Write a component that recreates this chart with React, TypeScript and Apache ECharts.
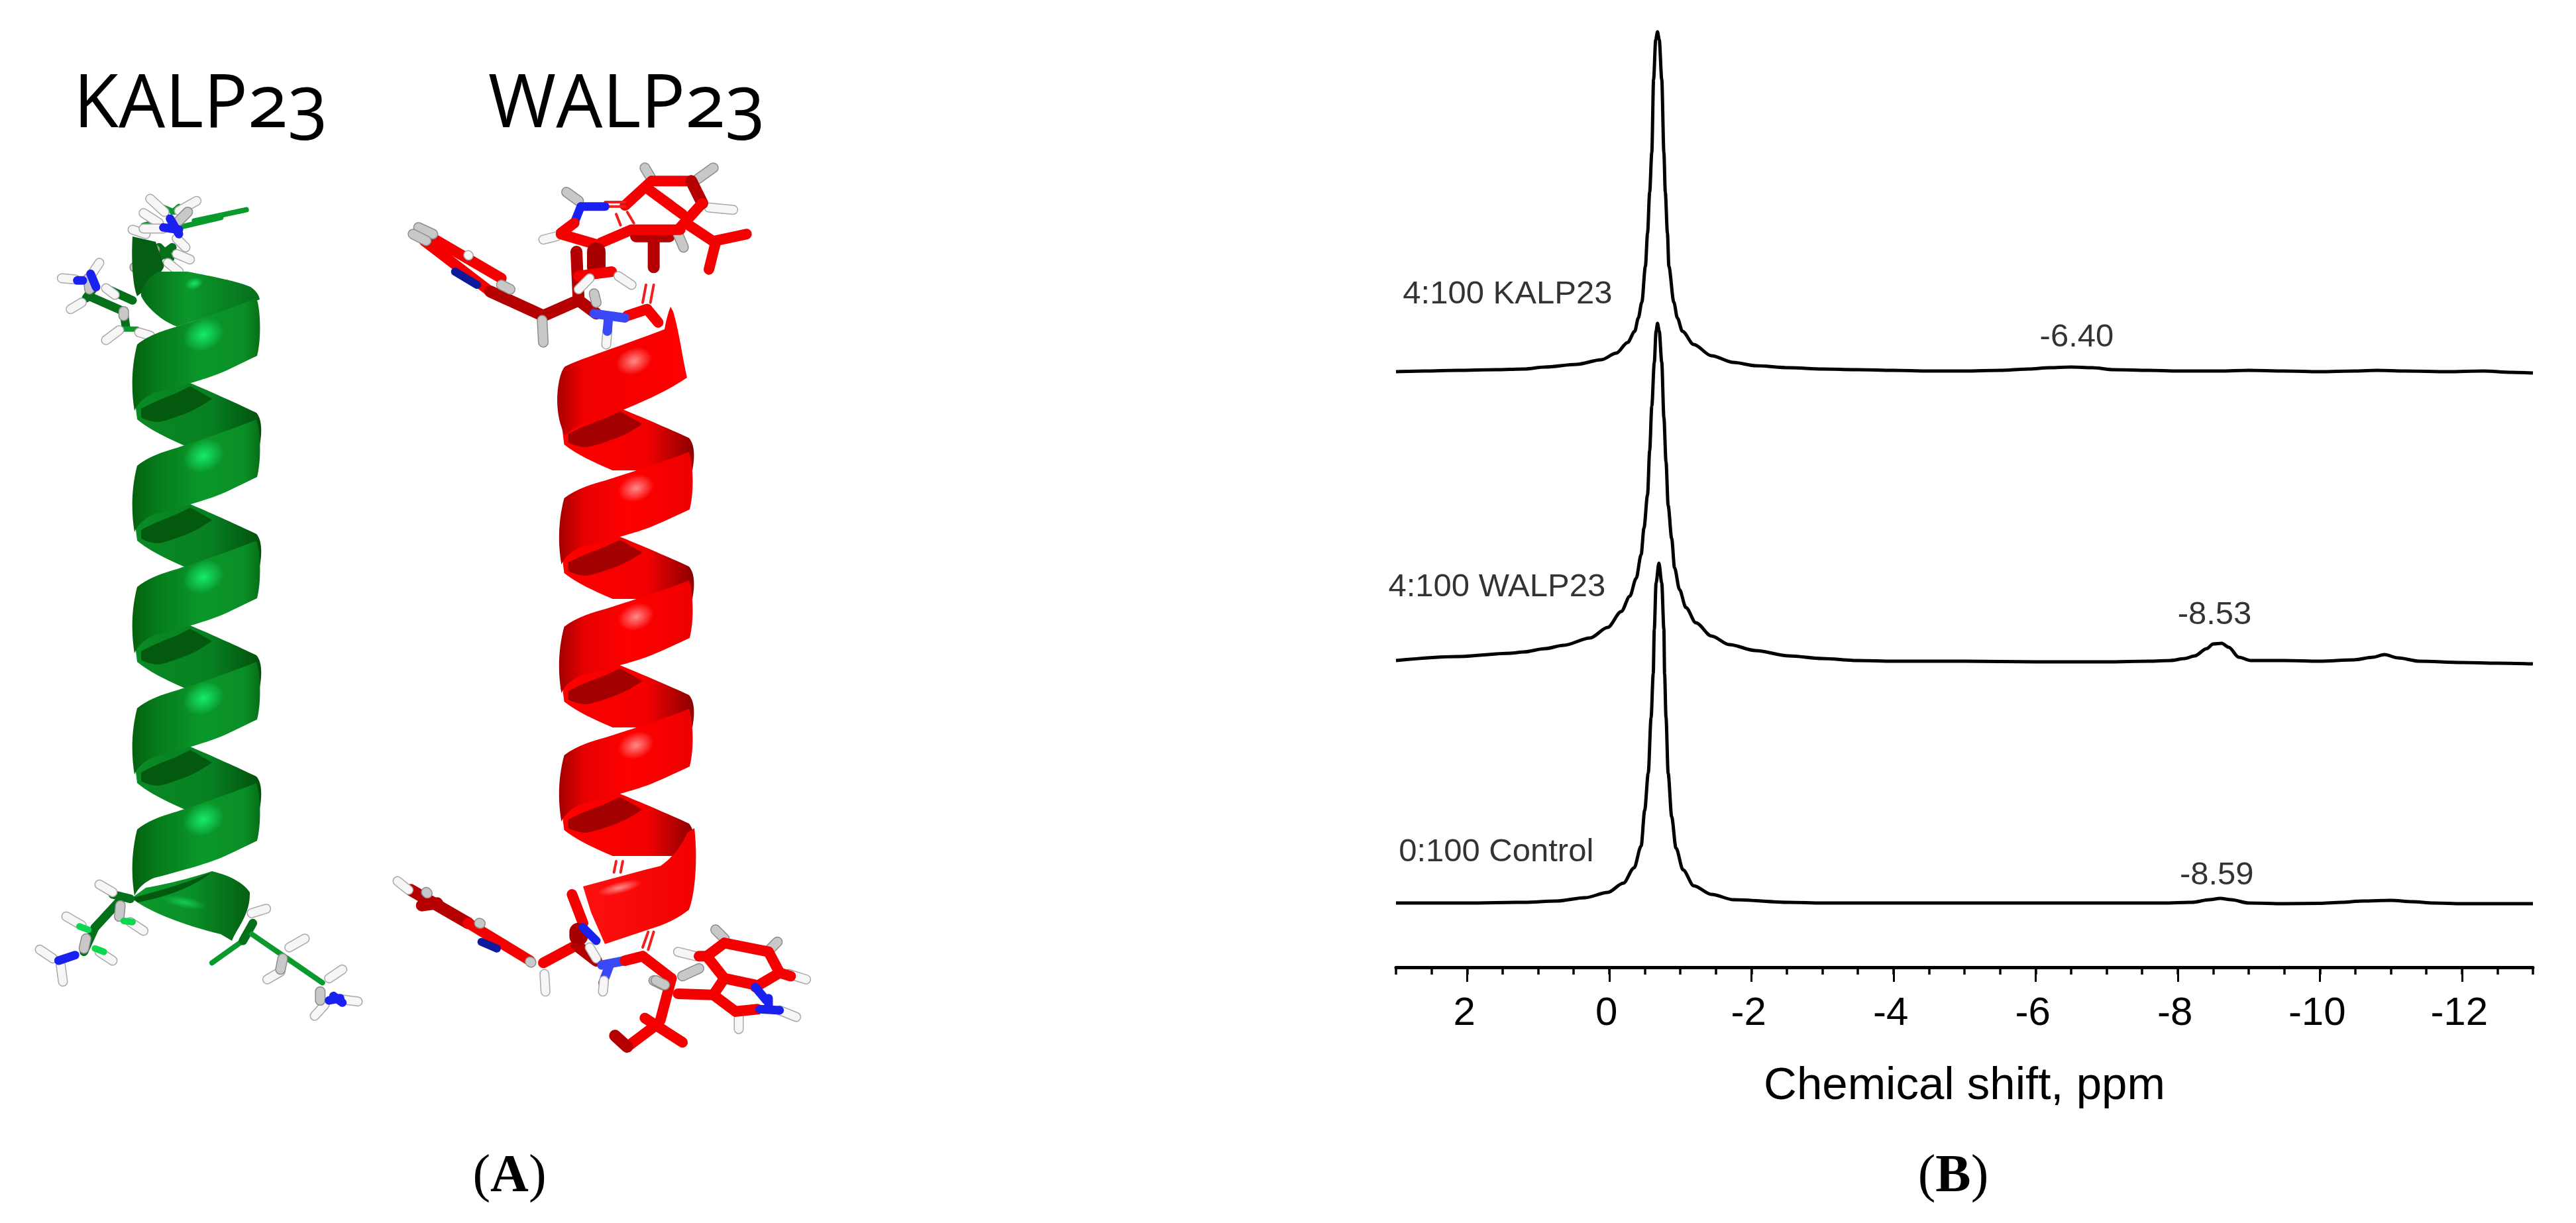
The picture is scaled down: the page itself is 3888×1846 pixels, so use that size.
import React, { useEffect, useRef } from "react";
import * as echarts from "echarts";

// ---------- spectrum data: [chemical shift ppm, signal height] ----------
const majorTicks = [2, 0, -2, -4, -6, -8, -10, -12];

const kalp23Trace = [
  [3.0, 899], [2.6, 900], [2.14, 901], [1.6, 902], [1.2, 903], [0.9, 906], [0.46, 910], [0.11, 917], [-0.1, 927], [-0.26, 943],
  [-0.36, 960], [-0.41, 980], [-0.46, 1004], [-0.51, 1058], [-0.54, 1108], [-0.57, 1170], [-0.6, 1230], [-0.625, 1340],
  [-0.655, 1400], [-0.68, 1412], [-0.705, 1400], [-0.74, 1340], [-0.77, 1230], [-0.79, 1170], [-0.82, 1108], [-0.84, 1058],
  [-0.91, 1004], [-0.96, 980], [-1.03, 960], [-1.19, 940], [-1.44, 923], [-1.75, 913], [-2.06, 908], [-2.53, 905],
  [-3, 903], [-3.5, 902], [-4, 901], [-4.5, 900], [-5, 900], [-5.5, 901], [-5.9, 903], [-6.2, 905], [-6.5, 906], [-6.8, 905],
  [-7.1, 902], [-7.6, 901], [-8, 900], [-8.6, 900], [-9, 901], [-9.5, 900], [-10, 899], [-10.5, 900], [-10.8, 901],
  [-11.2, 900], [-11.8, 899], [-12.3, 900], [-12.7, 898], [-13, 897],
];

const walp23Trace = [
  [3.0, 463], [2.14, 469], [1.39, 474], [1.2, 476], [0.9, 481], [0.64, 486], [0.27, 497], [0.02, 513], [-0.17, 537], [-0.29, 560],
  [-0.38, 587], [-0.45, 623], [-0.49, 663], [-0.54, 713], [-0.57, 780], [-0.6, 847], [-0.635, 913], [-0.66, 960], [-0.68, 972],
  [-0.705, 960], [-0.74, 913], [-0.77, 830], [-0.8, 763], [-0.83, 697], [-0.88, 647], [-0.92, 603], [-0.99, 570], [-1.08, 543],
  [-1.22, 520], [-1.44, 500], [-1.69, 487], [-2.06, 478], [-2.53, 470], [-3, 466], [-3.5, 463], [-4, 462], [-5, 462], [-6, 461],
  [-7, 461], [-7.6, 462], [-7.9, 463], [-8.1, 466], [-8.24, 470], [-8.41, 481], [-8.5, 488], [-8.62, 489], [-8.72, 483],
  [-8.86, 468], [-9.03, 463], [-9.5, 463], [-10, 462], [-10.48, 464], [-10.75, 468], [-10.91, 472], [-11.1, 467], [-11.4, 462],
  [-12, 460], [-12.5, 459], [-13, 458],
];

const controlTrace = [
  [3.0, 97], [2, 97], [1.2, 98], [0.74, 100], [0.34, 105], [0.02, 113], [-0.2, 127], [-0.35, 150], [-0.45, 183], [-0.5, 237],
  [-0.55, 293], [-0.59, 377], [-0.62, 443], [-0.635, 510], [-0.66, 580], [-0.7, 610], [-0.74, 580], [-0.77, 510], [-0.78, 443],
  [-0.8, 377], [-0.83, 293], [-0.88, 227], [-0.94, 180], [-1.04, 147], [-1.19, 123], [-1.44, 110], [-1.75, 102], [-2.53, 98],
  [-3, 97], [-4, 97], [-5, 97], [-6, 97], [-7, 97], [-7.8, 97], [-8.2, 98], [-8.45, 102], [-8.6, 104], [-8.75, 102], [-9, 97],
  [-9.5, 96], [-10, 96.5], [-10.3, 98], [-10.6, 100], [-11, 101], [-11.3, 99], [-11.6, 97], [-12, 96], [-13, 96],
];

const annotations = [
  { text: "4:100 KALP23", value: [1.43, 1019] },
  { text: "4:100 WALP23", value: [1.58, 577] },
  { text: "0:100 Control", value: [1.59, 177] },
  { text: "-6.40", value: [-6.58, 954] },
  { text: "-8.53", value: [-8.52, 535] },
  { text: "-8.59", value: [-8.55, 142] },
];

// ---------- panel A artwork: helix ribbon outlines ----------
const frontBand =
  "M203 620 C198 590 198 555 207 520 C225 505 250 498 267 493 C300 482 350 465 387 450 C393 465 395 510 388 537 C365 548 345 558 333 563 C310 572 290 578 233 593 C220 598 208 608 203 620 Z";
const backBand =
  "M287 578 C320 592 360 610 387 623 C395 632 396 650 392 672 L277 672 C250 660 225 648 207 633 L203 600 L287 560 Z";
const innerShade =
  "M213 617 C230 607 250 600 267 593 L287 583 C300 590 310 596 320 602 C305 612 295 618 283 623 C265 630 250 635 240 637 C230 637 220 634 213 630 Z";
const greenCap =
  "M213 447 C212 436 222 418 240 410 L283 410 C320 417 360 425 378 433 C388 440 391 446 392 452 C350 466 300 482 267 493 C245 485 222 465 213 447 Z";
const greenStem = "M200 357 C198 390 200 430 207 447 L216 440 C235 420 250 405 247 400 L235 365 Z";
const greenCurl =
  "M198 1356 C225 1375 270 1395 333 1410 L350 1420 C358 1400 378 1380 377 1347 C370 1335 350 1322 320 1315 C290 1325 250 1335 220 1340 Z";
const greenCurlShade = "M200 1355 C240 1345 290 1330 318 1317 C300 1335 250 1355 208 1362 Z";
const redFirst =
  "M853 657 C843 640 838 610 843 580 C845 568 848 558 853 553 C880 540 930 525 1003 497 C1005 485 1008 473 1012 463 L1016 470 C1025 500 1030 540 1037 570 C1000 595 960 610 930 623 C900 632 870 640 853 657 Z";
const redLast =
  "M880 1338 L973 1313 L997 1307 C1015 1295 1030 1275 1037 1257 L1048 1250 C1052 1280 1052 1340 1040 1373 C1025 1385 1010 1392 997 1397 L913 1425 L892 1377 Z";

type Stick = [number, number, number, number, string];

// sticks: x1, y1, x2, y2 in crop pixels (3x), kind
const greenTopSticks: Stick[] = [
  [880, 280, 1115, 230, "g"], [830, 305, 1000, 265, "g"],
  [720, 400, 770, 450, "dg"], [700, 460, 780, 400, "dg"], [730, 215, 790, 240, "g"], [810, 215, 780, 240, "g"], [650, 300, 720, 280, "g"],
  [680, 180, 745, 240, "H"], [890, 190, 810, 235, "H"], [650, 245, 720, 290, "H"], [600, 320, 660, 340, "H"], [650, 315, 740, 315, "H"],
  [840, 400, 800, 360, "H"], [860, 455, 800, 430, "H"], [810, 510, 760, 470, "H"], [610, 490, 690, 470, "G"], [640, 435, 700, 410, "G"], [850, 240, 810, 280, "G"],
  [740, 310, 810, 320, "b"], [770, 270, 810, 340, "b"],
  [400, 620, 560, 690, "dg"], [490, 590, 600, 640, "dg"], [560, 690, 570, 760, "dg"], [560, 770, 620, 770, "g"], [390, 630, 420, 590, "dg"],
  [280, 540, 340, 545, "H"], [450, 470, 410, 530, "H"], [400, 540, 405, 590, "G"], [320, 680, 370, 650, "H"], [480, 820, 540, 775, "H"],
  [560, 690, 560, 710, "G"], [630, 785, 680, 800, "H"], [480, 585, 520, 615, "H"],
  [350, 550, 375, 550, "b"], [410, 520, 435, 580, "b"],
];
const greenBottomSticks: Stick[] = [
  [960, 610, 1100, 510, "g"], [1100, 510, 1145, 430, "dg"], [1140, 480, 1300, 590, "g"], [1300, 590, 1460, 700, "g"],
  [550, 320, 430, 450, "dg"], [430, 450, 380, 560, "dg"], [510, 300, 590, 320, "dg"],
  [450, 255, 510, 290, "H"], [300, 400, 370, 440, "H"], [650, 465, 590, 425, "H"], [510, 600, 450, 560, "H"], [180, 550, 240, 590, "H"], [285, 695, 275, 620, "H"],
  [540, 400, 545, 350, "G"], [380, 545, 390, 500, "G"], [1205, 365, 1140, 385, "H"], [1380, 500, 1310, 540, "H"], [1210, 685, 1270, 650, "H"],
  [1270, 640, 1280, 590, "G"], [1550, 640, 1490, 680, "H"], [1425, 850, 1470, 800, "H"], [1450, 780, 1450, 740, "G"], [1620, 785, 1545, 775, "H"],
  [360, 445, 400, 460, "lg"], [560, 420, 600, 425, "lg"], [430, 545, 470, 560, "lg"],
  [265, 600, 340, 575, "b"], [1490, 780, 1540, 770, "b"], [1510, 760, 1550, 790, "b"],
];
const redTopSticks: Stick[] = [
  [1380, 300, 1500, 380, "r"], [1500, 380, 1470, 500, "r"], [1500, 370, 1640, 340, "r"], [1220, 350, 1220, 490, "dr"], [1140, 350, 1290, 350, "dr"],
  [1330, 340, 1355, 400, "G"], [1490, 40, 1420, 90, "G"], [1180, 40, 1210, 90, "G"], [1470, 220, 1580, 230, "H"],
  [1090, 210, 1210, 100, "r"], [1210, 100, 1390, 100, "r"], [1390, 100, 1440, 200, "dr"], [1440, 200, 1340, 310, "r"], [1200, 140, 1350, 250, "r"],
  [1000, 195, 1090, 195, "rt"], [1000, 215, 1090, 215, "rt"], [1050, 250, 1070, 300, "rt"], [1100, 240, 1130, 290, "rt"],
  [825, 150, 880, 190, "G"], [890, 215, 1000, 215, "b"], [890, 215, 860, 290, "b"],
  [860, 290, 800, 335, "r"], [720, 365, 780, 350, "H"], [800, 340, 970, 390, "r"],
  [980, 380, 1120, 320, "r"], [1120, 320, 1340, 320, "r"],
  [960, 420, 960, 490, "drw"], [880, 640, 870, 420, "dr"],
  [170, 330, 530, 540, "r"], [180, 370, 480, 600, "r"], [480, 600, 720, 710, "dr"], [720, 710, 880, 640, "dr"], [880, 640, 960, 700, "dr"],
  [155, 310, 220, 340, "G"], [130, 340, 190, 370, "G"], [380, 435, 382, 437, "H"], [570, 590, 530, 570, "G"], [720, 830, 715, 730, "G"], [320, 510, 420, 570, "nb"],
  [880, 530, 1030, 510, "r"], [1060, 530, 1120, 570, "H"], [880, 590, 930, 540, "H"], [950, 610, 960, 650, "G"],
  [1100, 710, 1190, 680, "r"], [1190, 680, 1240, 740, "r"], [1170, 650, 1185, 570, "rt"], [1205, 650, 1220, 570, "rt"],
  [1005, 840, 1010, 780, "H"], [950, 700, 1090, 720, "lb"], [1015, 720, 1010, 780, "lb"],
];
const redBottomSticks: Stick[] = [
  [120, 280, 380, 430, "dr"], [380, 430, 660, 600, "r"], [60, 240, 110, 280, "H"], [190, 290, 195, 295, "G"], [430, 430, 435, 432, "G"], [170, 350, 240, 340, "dr"],
  [440, 515, 510, 545, "nb"], [660, 605, 665, 608, "G"], [730, 740, 725, 660, "H"],
  [720, 610, 870, 530, "r"], [870, 530, 960, 600, "dr"], [850, 300, 900, 430, "r"], [880, 470, 880, 490, "drw"],
  [900, 450, 960, 510, "b"], [960, 590, 930, 540, "H"], [985, 620, 1090, 600, "lb"], [1020, 620, 990, 700, "lb"], [990, 740, 995, 690, "H"],
  [1090, 600, 1170, 580, "r"], [1170, 580, 1300, 680, "r"], [1170, 540, 1195, 470, "rt"], [1195, 550, 1220, 470, "rt"],
  [1040, 200, 1050, 150, "rt"], [1070, 200, 1080, 150, "rt"],
  [1220, 690, 1260, 710, "G"], [1300, 680, 1250, 870, "r"],
  [1180, 860, 1350, 970, "r"], [1220, 900, 1100, 990, "r"], [1100, 990, 1045, 940, "dr"],
];
const redRingSticks: Stick[] = [
  [360, 70, 400, 110, "G"], [640, 125, 600, 165, "G"], [770, 295, 690, 270, "H"], [725, 465, 650, 435, "H"], [465, 520, 465, 450, "H"],
  [190, 170, 270, 190, "H"], [285, 245, 210, 280, "G"], [90, 300, 130, 320, "G"],
  [190, 360, 350, 365, "r"], [350, 365, 400, 290, "r"], [400, 290, 320, 190, "r"], [285, 190, 320, 190, "r"], [320, 190, 400, 130, "r"],
  [400, 130, 600, 170, "r"], [600, 170, 650, 265, "r"], [650, 265, 540, 330, "r"], [400, 290, 540, 320, "r"], [350, 365, 450, 440, "r"],
  [450, 440, 550, 430, "r"], [650, 265, 700, 280, "r"], [540, 330, 590, 390, "b"], [560, 430, 650, 435, "b"], [600, 380, 600, 430, "b"],
];

// ---------- text positions in panel A ----------
const panelLetters = [
  { text: "({b|A})", x: 769 },
  { text: "({b|B})", x: 2948 },
];

const stickStyles: Record<string, { c: string; w: number; o?: string }> = {
  H: { c: "#f6f6f6", w: 12, o: "#a8a8a8" },
  G: { c: "#c8c8c8", w: 13, o: "#8c8c8c" },
  g: { c: "#0a9a2c", w: 8 },
  dg: { c: "#05701a", w: 13 },
  lg: { c: "#0bd84e", w: 10 },
  b: { c: "#1a20f0", w: 13 },
  lb: { c: "#3a48f5", w: 14 },
  nb: { c: "#0e1a9a", w: 12 },
  r: { c: "#f40000", w: 16 },
  dr: { c: "#b40000", w: 18 },
  drw: { c: "#a80000", w: 28 },
  rt: { c: "#f02020", w: 4 },
};

const shapesRegistered: Record<string, string> = {
  frontBand, backBand, innerShade, greenCap, greenStem, greenCurl, greenCurlShade, redFirst, redLast,
};
Object.keys(shapesRegistered).forEach((k) => {
  echarts.graphic.registerShape(k, echarts.graphic.extendPath(shapesRegistered[k], {}));
});

function linearX(stops: [number, string][]) {
  return new echarts.graphic.LinearGradient(0, 0, 1, 0, stops.map(([offset, color]) => ({ offset, color })));
}

function stickElements(list: Stick[], ox: number, oy: number, div: number) {
  const out: any[] = [];
  const add = (s: Stick, c: string, w: number) =>
    out.push({
      type: "line",
      silent: true,
      shape: { x1: ox + s[0] / div, y1: oy + s[1] / div, x2: ox + s[2] / div, y2: oy + s[3] / div },
      style: { stroke: c, lineWidth: w, lineCap: "round" },
    });
  list.forEach((s) => {
    const st = stickStyles[s[4]];
    if (st.o) add(s, st.o, st.w + 3);
    add(s, st.c, st.w);
  });
  return out;
}

function highlight(cx: number, cy: number, rx: number, ry: number, rot: number, color: string) {
  return {
    type: "ellipse",
    silent: true,
    x: cx,
    y: cy,
    rotation: rot,
    shape: { cx: 0, cy: 0, rx, ry },
    style: {
      fill: new echarts.graphic.RadialGradient(0.5, 0.5, 0.5, [
        { offset: 0, color },
        { offset: 1, color: color.slice(0, 7) + "00" },
      ]),
    },
  };
}

function helixElements() {
  const els: any[] = [];
  const greenFront = linearX([[0, "#04600f"], [0.18, "#067a1a"], [0.55, "#0a982a"], [0.88, "#0a8e26"], [1, "#066e18"]]);
  const greenBack = linearX([[0, "#0a8a24"], [0.6, "#078022"], [1, "#034f0c"]]);
  const redFront = linearX([[0, "#a00000"], [0.18, "#e60000"], [0.5, "#ff0000"], [1, "#ee0000"]]);
  const redBack = linearX([[0, "#ff0000"], [0.65, "#f20000"], [1, "#8a0000"]]);

  // green helix
  const gp = 183;
  els.push({ type: "greenStem", silent: true, style: { fill: "#045f12" } });
  els.push({ type: "greenCurl", silent: true, style: { fill: linearX([[0, "#0a9a2c"], [0.5, "#0a9028"], [1, "#055f12"]]) } });
  els.push({ type: "greenCurlShade", silent: true, style: { fill: "#035a0e" } });
  for (let k = 0; k < 4; k++) {
    els.push({ type: "backBand", silent: true, y: k * gp, style: { fill: greenBack } });
    els.push({ type: "innerShade", silent: true, y: k * gp, style: { fill: "#035a0e" } });
  }
  els.push({ type: "greenCap", silent: true, style: { fill: linearX([[0, "#056a16"], [0.4, "#0a982a"], [1, "#076e1c"]]) } });
  els.push(highlight(293, 428, 14, 9, 0.3, "#16e86aff"));
  for (let k = 0; k < 5; k++) {
    els.push({ type: "frontBand", silent: true, y: k * gp, style: { fill: greenFront } });
    els.push(highlight(307, 505 + k * gp, 32, 24, 0.4, "#16ea6cff"));
  }
  els.push(highlight(278, 1362, 34, 9, -0.2, "#14d860cc"));

  // red helix
  const rp = 194;
  const rx = 635;
  const rs = 1.046;
  const ro = 38;
  for (let k = 0; k < 4; k++) {
    els.push({ type: "backBand", silent: true, x: rx, scaleX: rs, y: ro + k * rp, style: { fill: redBack } });
    els.push({ type: "innerShade", silent: true, x: rx, scaleX: rs, y: ro + k * rp, style: { fill: "#a30000" } });
  }
  els.push({ type: "redFirst", silent: true, style: { fill: linearX([[0, "#a80000"], [0.2, "#f00000"], [1, "#ff0000"]]) } });
  els.push(highlight(957, 545, 28, 20, 0.35, "#ff8a8aff"));
  for (let k = 1; k < 4; k++) {
    els.push({ type: "frontBand", silent: true, x: rx, scaleX: rs, y: ro + k * rp, style: { fill: redFront } });
    els.push(highlight(960, 505 + ro + k * rp, 28, 20, 0.35, "#ff8a8aff"));
  }
  els.push({ type: "redLast", silent: true, style: { fill: linearX([[0, "#ff1010"], [1, "#f20000"]]) } });
  els.push(highlight(935, 1340, 34, 9, 0.25, "#ffa0a0dd"));
  return els;
}

function buildGraphic() {
  const titleStyle = (text: string, x: number) => ({
    type: "text",
    silent: true,
    x,
    y: 149,
    style: { text, fontFamily: "Open Sans", fontSize: 111, fill: "#000", align: "center", verticalAlign: "middle" },
  });
  return [
    titleStyle("KALP23", 303),
    titleStyle("WALP23", 946),
    ...stickElements(greenTopSticks, 0, 240, 3),
    ...helixElements(),
    ...stickElements(greenBottomSticks, 0, 1250, 3),
    ...stickElements(redTopSticks, 580, 240, 3),
    ...stickElements(redBottomSticks, 580, 1250, 3),
    ...stickElements(redRingSticks, 960, 1380, 3),
    ...panelLetters.map((p) => ({
      type: "text",
      silent: true,
      x: p.x,
      y: 1771,
      style: {
        text: p.text,
        fontFamily: "Liberation Serif",
        fontSize: 80,
        fill: "#000",
        align: "center",
        verticalAlign: "middle",
        rich: { b: { fontFamily: "Liberation Serif", fontSize: 80, fontWeight: "bold", fill: "#000" } },
      },
    })),
  ];
}

function traceSeries(name: string, data: number[][]) {
  return {
    name,
    type: "line",
    xAxisIndex: 0,
    yAxisIndex: 0,
    data,
    showSymbol: false,
    symbol: "none",
    smooth: 0.3,
    smoothMonotone: "x",
    lineStyle: { color: "#000", width: 5, join: "bevel" },
    silent: true,
    clip: false,
  };
}

export default function App() {
  const ref = useRef<HTMLDivElement>(null);
  useEffect(() => {
    document.body.style.margin = "0";
    const chart = echarts.init(ref.current!, undefined, { renderer: "svg" });
    const sharedX = { type: "value", min: -13, max: 3, inverse: true, position: "bottom" };
    chart.setOption({
      animation: false,
      backgroundColor: "#fff",
      textStyle: { fontFamily: "Liberation Sans" },
      grid: { left: 2107, right: 65, top: 0, bottom: 386, containLabel: false },
      xAxis: [
        {
          ...sharedX,
          interval: 0.5,
          axisLine: { show: true, lineStyle: { color: "#000", width: 5 } },
          axisTick: { show: true, customValues: majorTicks, length: 22, lineStyle: { color: "#000", width: 3 } },
          axisLabel: {
            show: true,
            customValues: majorTicks,
            margin: 36,
            fontSize: 60,
            color: "#000",
            fontFamily: "Liberation Sans",
            padding: [0, 8, 0, 0],
            formatter: (v: number) => String(v),
          },
          splitLine: { show: false },
          name: "Chemical shift, ppm",
          nameLocation: "middle",
          nameGap: 141,
          nameTextStyle: { fontSize: 69, color: "#000", fontFamily: "Liberation Sans" },
        },
        {
          ...sharedX,
          interval: 0.5,
          axisLine: { show: false },
          axisTick: { show: true, length: 11, lineStyle: { color: "#000", width: 3.5 } },
          axisLabel: { show: false },
          splitLine: { show: false },
        },
      ],
      yAxis: { type: "value", min: 0, max: 1460, show: false },
      graphic: { elements: buildGraphic() },
      series: [
        traceSeries("4:100 KALP23", kalp23Trace),
        traceSeries("4:100 WALP23", walp23Trace),
        traceSeries("0:100 Control", controlTrace),
        {
          type: "scatter",
          xAxisIndex: 0,
          yAxisIndex: 0,
          symbolSize: 0,
          silent: true,
          data: annotations.map((a) => ({ name: a.text, value: a.value })),
          label: {
            show: true,
            position: "inside",
            formatter: "{b}",
            fontSize: 49,
            color: "#000",
            fontFamily: "Liberation Sans",
          },
        },
      ],
    });
    return () => chart.dispose();
  }, []);
  return (
    <div
      ref={ref}
      style={{ position: "absolute", left: 0, top: 0, width: 3888, height: 1846, fontFeatureSettings: '"onum"' }}
    />
  );
}
